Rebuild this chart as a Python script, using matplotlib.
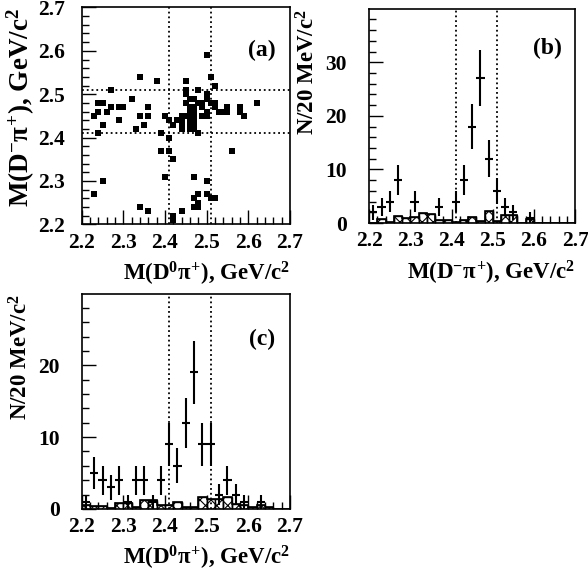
import numpy as np
import matplotlib
matplotlib.use("Agg")
import matplotlib.pyplot as plt
from matplotlib.ticker import MultipleLocator

plt.rcParams['font.family'] = ['Liberation Serif', 'DejaVu Serif']
plt.rcParams['mathtext.fontset'] = 'custom'
plt.rcParams['mathtext.rm'] = 'Liberation Serif:bold'
plt.rcParams['mathtext.it'] = 'Liberation Serif:bold'
plt.rcParams['mathtext.bf'] = 'Liberation Serif:bold'
plt.rcParams['hatch.linewidth'] = 0.8

# (a) scatter: M(D0 pi+) vs M(D- pi+), GeV/c^2
sc_x = [2.50, 2.34, 2.51, 2.38, 2.45, 2.52, 2.27, 2.32, 2.24, 2.25,
        2.27, 2.29, 2.30, 2.36, 2.24, 2.26, 2.23, 2.34, 2.36, 2.40,
        2.29, 2.41, 2.25, 2.35, 2.42, 2.33, 2.24, 2.39, 2.41, 2.39,
        2.41, 2.56, 2.42, 2.40, 2.47, 2.25, 2.50, 2.23, 2.48, 2.50,
        2.47, 2.52, 2.51, 2.48, 2.47, 2.48, 2.34, 2.36, 2.44, 2.42,
        2.42, 2.62, 2.58, 2.58, 2.59,
        2.45, 2.48, 2.50, 2.45, 2.46, 2.47, 2.50, 2.45, 2.48, 2.49,
        2.51, 2.52, 2.46, 2.47, 2.49, 2.52, 2.55, 2.46, 2.47, 2.50,
        2.53, 2.54, 2.55, 2.44, 2.45, 2.46, 2.47, 2.49, 2.50, 2.43,
        2.44, 2.46, 2.47, 2.42, 2.44, 2.46, 2.47, 2.44, 2.46, 2.47,
        2.48]
sc_y = [2.59, 2.54, 2.54, 2.53, 2.53, 2.52, 2.51, 2.49, 2.48, 2.48,
        2.47, 2.47, 2.47, 2.47, 2.46, 2.46, 2.45, 2.45, 2.45, 2.45,
        2.44, 2.44, 2.43, 2.43, 2.43, 2.42, 2.41, 2.41, 2.40, 2.37,
        2.37, 2.37, 2.35, 2.31, 2.31, 2.30, 2.30, 2.27, 2.27, 2.27,
        2.26, 2.26, 2.26, 2.25, 2.24, 2.24, 2.24, 2.23, 2.23, 2.22,
        2.21, 2.48, 2.47, 2.46, 2.45,
        2.51, 2.51, 2.50, 2.50, 2.49, 2.49, 2.49, 2.48, 2.48, 2.48,
        2.48, 2.48, 2.47, 2.47, 2.47, 2.47, 2.47, 2.46, 2.46, 2.46,
        2.46, 2.46, 2.46, 2.45, 2.45, 2.45, 2.45, 2.45, 2.45, 2.44,
        2.44, 2.44, 2.44, 2.43, 2.43, 2.43, 2.43, 2.42, 2.42, 2.42,
        2.41]

# histogram bins, 20 MeV from 2.20 to 2.70
edges = np.round(np.arange(2.20, 2.701, 0.02), 2)
centers = np.round(edges[:-1] + 0.01, 2)

# (b) M(D- pi+) signal counts and sideband background
cnt_b = [2, 3, 4, 8, 0, 4, 0, 0, 3, 0, 4, 8, 18, 27, 12, 6, 3, 2, 0, 1,
         0, 0, 0, 0, 0]
bkg_b = [0.1, 0.75, 0.25, 1.4, 0.9, 1.1, 1.8, 1.7, 0.6, 0.6, 0.2, 0.5,
         1.05, 0.3, 2.2, 0.3, 1.6, 1.6, 0, 0.75, 0, 0, 0, 0, 0]

# (c) M(D0 pi+) signal counts and sideband background
cnt_c = [1, 5, 4, 3, 4, 1, 4, 4, 1, 4, 9, 6, 12, 19, 9, 9, 2, 4, 2, 1,
         0, 1, 0, 0, 0]
bkg_c = [0.56, 0.45, 0.45, 0.1, 0.75, 0.75, 0.25, 1.25, 1.25, 0.56,
         0.56, 0.9, 0.3, 0.3, 1.7, 1.4, 1.4, 1.7, 0.65, 0.5, 0.2, 0.5,
         0.25, 0, 0]

mass_ticks = [2.2, 2.3, 2.4, 2.5, 2.6, 2.7]
mass_labels = ["2.2", "2.3", "2.4", "2.5", "2.6", "2.7"]
cut_lo, cut_hi = 2.41, 2.51
lab_d0 = r'M(D$^{0}\pi^{+}$), GeV/c$^{2}$'
lab_dm = r'M(D$^{-}\pi^{+}$), GeV/c$^{2}$'
lab_n = r'N/20 MeV/c$^{2}$'

TXT = dict(family='Liberation Serif', fontweight='bold')

fig = plt.figure(figsize=(5.88, 5.75), dpi=100)
ax_a = fig.add_axes([0.139, 0.610, 0.354, 0.377])
ax_b = fig.add_axes([0.628, 0.612, 0.350, 0.372])
ax_c = fig.add_axes([0.139, 0.115, 0.354, 0.374])


def style(ax, yticks, ylabels, yminor, ypad):
    ax.set_xlim(2.2, 2.7)
    ax.set_xticks(mass_ticks, mass_labels, fontsize=15.5, **TXT)
    ax.set_yticks(yticks, ylabels, fontsize=15.5, **TXT)
    ax.xaxis.set_minor_locator(MultipleLocator(0.02))
    ax.yaxis.set_minor_locator(MultipleLocator(yminor))
    ax.tick_params(which='both', direction='in', top=False, right=False,
                   width=1)
    ax.tick_params(which='major', length=10)
    ax.tick_params(which='minor', length=5)
    ax.tick_params(axis='x', which='major', pad=6)
    ax.tick_params(axis='y', which='major', pad=ypad)
    for sp in ax.spines.values():
        sp.set_linewidth(1.2)


# panel (a)
ax_a.scatter(sc_x, sc_y, marker='s', s=13, c='black', linewidths=0)
style(ax_a, mass_ticks, mass_labels, 0.02, 12)
ax_a.set_ylim(2.2, 2.7)
for v in (cut_lo, cut_hi):
    ax_a.axvline(v, color='black', ls=':', lw=1.3)
    ax_a.axhline(v, color='black', ls=':', lw=1.3)
ax_a.text(0.866, 0.80, '(a)', transform=ax_a.transAxes, fontsize=17,
          ha='center', va='center', **TXT)
ax_a.set_xlabel(lab_d0, fontsize=16.5, loc='right', labelpad=5, **TXT)
ax_a.set_ylabel(lab_dm, fontsize=19.5, loc='top', labelpad=1, **TXT)


def hist_panel(ax, cnt, bkg, top, ticks, xlab):
    ax.bar(centers, bkg, width=0.02, color='white', edgecolor='black',
           hatch='xxx', linewidth=1.0)
    ax.stairs(bkg, edges, color='black', lw=1.2)
    cnt = np.array(cnt, dtype=float)
    m = cnt > 0
    ax.errorbar(centers[m], cnt[m], yerr=np.sqrt(cnt[m]), xerr=0.01,
                fmt='none', ecolor='black', elinewidth=1.5, capsize=0)
    for v in (cut_lo, cut_hi):
        ax.axvline(v, color='black', ls=':', lw=1.3)
    style(ax, ticks, [str(t) for t in ticks], 2, 16)
    ax.set_ylim(0, top)
    ax.set_xlim(2.2, 2.7)
    ax.set_xlabel(xlab, fontsize=16.5, loc='right', labelpad=5, **TXT)
    ax.set_ylabel(lab_n, fontsize=16.5, loc='top', labelpad=4, **TXT)


hist_panel(ax_b, cnt_b, bkg_b, 39.9, [0, 10, 20, 30], lab_dm)
ax_b.text(0.864, 0.818, '(b)', transform=ax_b.transAxes, fontsize=17,
          ha='center', va='center', **TXT)
hist_panel(ax_c, cnt_c, bkg_c, 29.95, [0, 10, 20], lab_d0)
ax_c.text(0.868, 0.786, '(c)', transform=ax_c.transAxes, fontsize=17,
          ha='center', va='center', **TXT)

fig.savefig("out.png", dpi=100)
